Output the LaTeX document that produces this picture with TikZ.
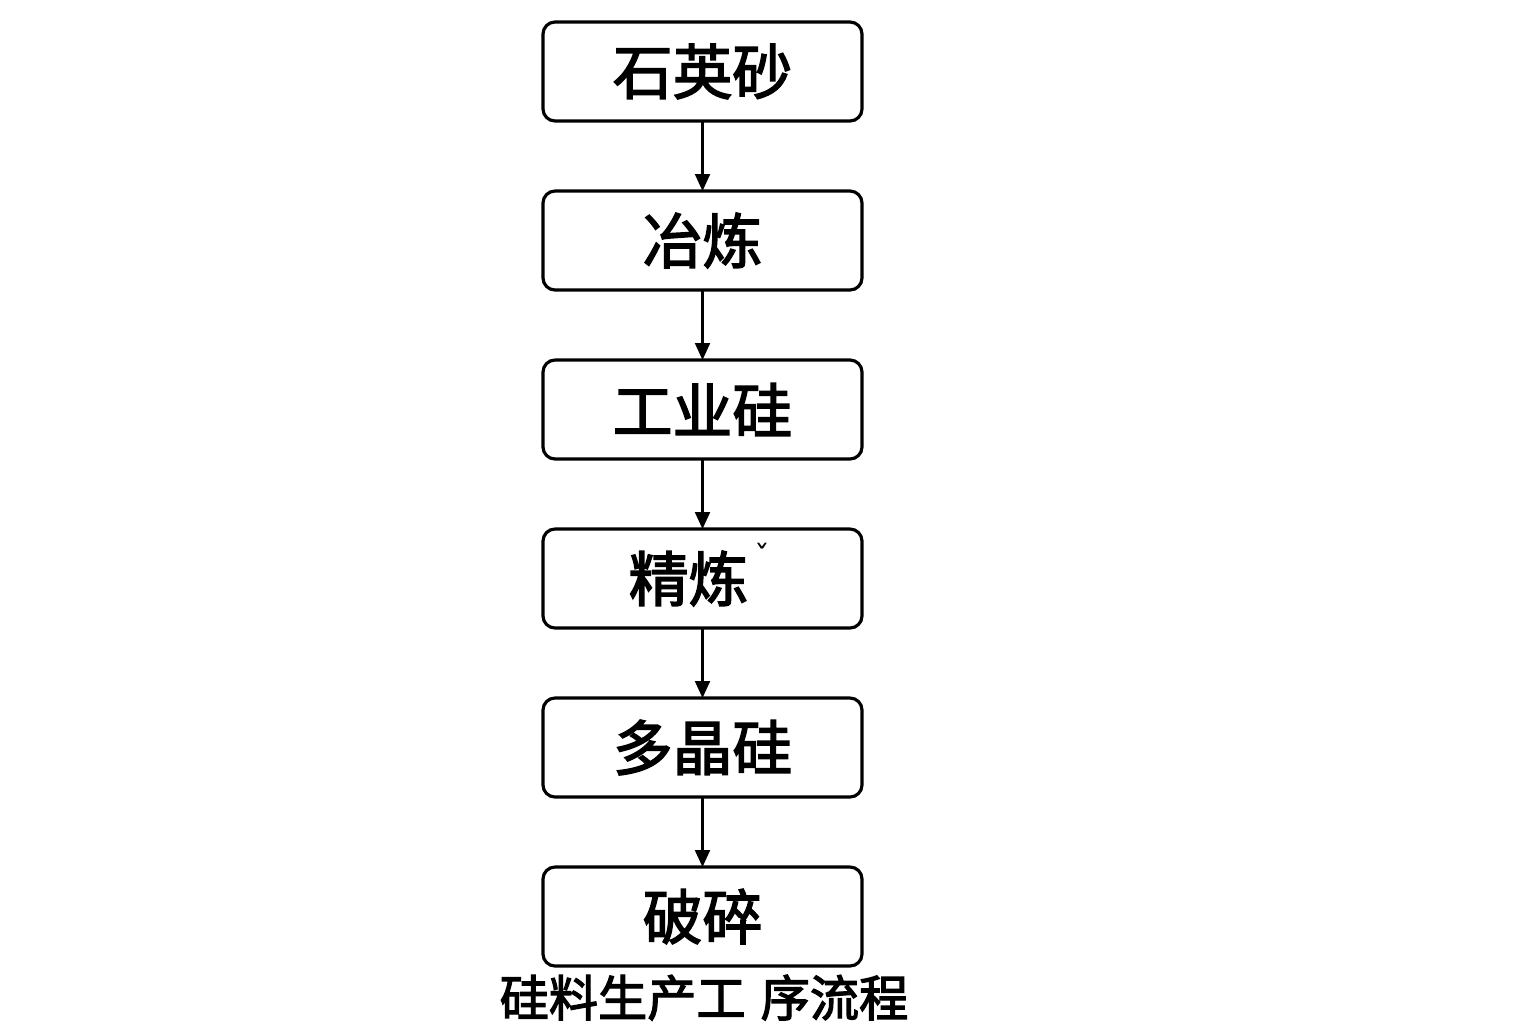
\documentclass[tikz,border=0pt]{standalone}
\usepackage{fontspec}
\newfontfamily\cjk{Noto Sans CJK SC}[UprightFeatures={FakeBold=2.5}]
\newfontfamily\symfont{DejaVu Sans}
\usetikzlibrary{positioning,arrows.meta}
\tikzset{
  stepbox/.style={draw, rounded corners=0.12cm, line width=0.9pt,
    minimum width=3.19cm, minimum height=0.99cm, inner sep=0pt, outer sep=0pt,
    font=\cjk\fontsize{17}{17}\selectfont},
  flow/.style={-{Triangle[length=0.17cm,width=0.15cm]}, line width=0.6pt}
}

\begin{document}
\begin{tikzpicture}
    \useasboundingbox (0,0) rectangle (15.36,-10.24);
    \fill[white] (0,0) rectangle (15.36,-10.24);
    % the boxes, top to bottom
    \node[stepbox] (sand) at (7.025,-0.715) {石英砂};
    \node[stepbox, below=0.70cm of sand] (smelt) {冶炼};
    \node[stepbox, below=0.70cm of smelt] (indsi) {工业硅};
    \node[stepbox, below=0.70cm of indsi] (refine) {\hspace*{-0.28cm}精炼};
    \node[stepbox, below=0.70cm of refine] (polysi) {多晶硅};
    \node[stepbox, below=0.70cm of polysi] (crush) {破碎};
    \node[font=\symfont\fontsize{9}{9}\selectfont] (mark) at (7.62,-5.56) {ˇ};
    % arrows between them
    \foreach \a/\b in {sand/smelt, smelt/indsi, indsi/refine, refine/polysi, polysi/crush} {
      \draw[flow] (\a) -- (\b);
    }
    \node[anchor=north, inner sep=0pt, font=\cjk\fontsize{14}{14}\selectfont]
      (caption) at (7.04,-9.74) {硅料生产工\hspace{0.15cm}序流程};
\end{tikzpicture}
\end{document}
